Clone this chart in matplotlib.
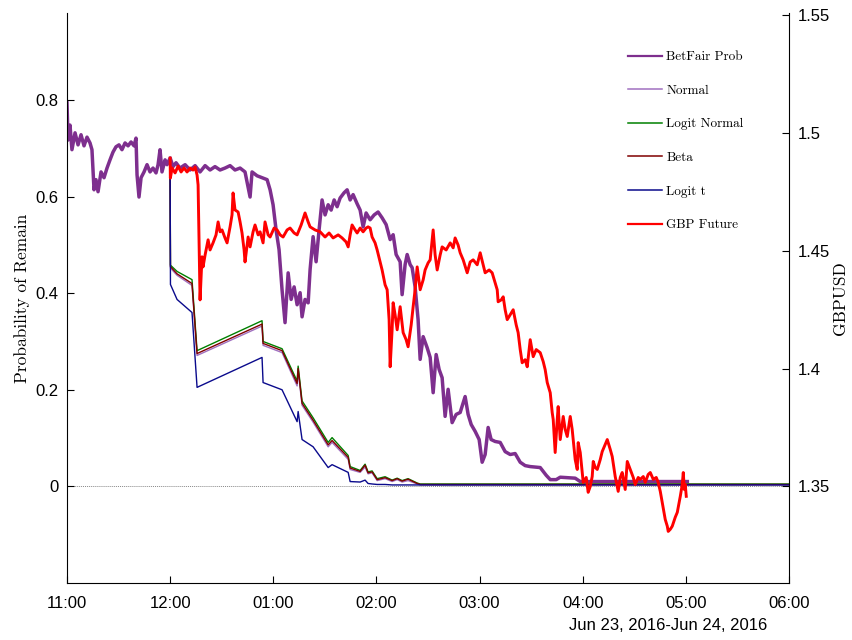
import matplotlib
matplotlib.use("Agg")
import matplotlib.pyplot as plt
import matplotlib.dates as mdates
from matplotlib.lines import Line2D
import pandas as pd

# time is in hours after 11:00 pm on Jun 23, 2016
base = pd.Timestamp("2016-06-23 23:00")

betfair_t = [0.000, 0.010, 0.029, 0.048, 0.078, 0.107, 0.136, 0.165, 0.194, 0.223,
             0.242, 0.262, 0.281, 0.301, 0.330, 0.359, 0.388, 0.417, 0.446, 0.475,
             0.504, 0.533, 0.563, 0.592, 0.621, 0.650, 0.669, 0.679, 0.698, 0.718,
             0.747, 0.776, 0.805, 0.834, 0.863, 0.883, 0.902, 0.921, 0.951, 0.970,
             1.000, 1.028, 1.057, 1.096, 1.145, 1.193, 1.242, 1.290, 1.339, 1.387,
             1.435, 1.484, 1.532, 1.581, 1.629, 1.678, 1.726, 1.775, 1.794, 1.843,
             1.891, 1.940, 1.969, 1.998, 2.027, 2.056, 2.085, 2.114, 2.144, 2.173,
             2.202, 2.231, 2.260, 2.279, 2.308, 2.338, 2.357, 2.386, 2.415, 2.444,
             2.473, 2.502, 2.532, 2.561, 2.590, 2.619, 2.648, 2.687, 2.716, 2.745,
             2.774, 2.813, 2.842, 2.871, 2.900, 2.939, 2.978, 3.016, 3.055, 3.094,
             3.133, 3.162, 3.191, 3.230, 3.249, 3.278, 3.298, 3.327, 3.346, 3.375,
             3.404, 3.424, 3.453, 3.492, 3.521, 3.550, 3.579, 3.608, 3.637, 3.666,
             3.695, 3.734, 3.773, 3.812, 3.860, 3.889, 3.919, 3.957, 3.996, 4.025,
             4.054, 4.083, 4.112, 4.151, 4.200, 4.248, 4.297, 4.345, 4.394, 4.442,
             4.491, 4.588, 4.646, 4.685, 4.743, 4.782, 4.927, 4.976, 5.364, 5.752,
             6.014]
betfair_p = [0.794, 0.717, 0.748, 0.697, 0.732, 0.707, 0.728, 0.705, 0.723, 0.711,
             0.697, 0.614, 0.635, 0.610, 0.651, 0.639, 0.659, 0.676, 0.692, 0.703,
             0.707, 0.697, 0.711, 0.705, 0.713, 0.705, 0.721, 0.645, 0.599, 0.639,
             0.651, 0.666, 0.651, 0.659, 0.649, 0.666, 0.697, 0.651, 0.676, 0.666,
             0.680, 0.662, 0.670, 0.659, 0.666, 0.655, 0.664, 0.651, 0.664, 0.655,
             0.662, 0.655, 0.659, 0.664, 0.655, 0.659, 0.651, 0.599, 0.651, 0.643,
             0.639, 0.635, 0.614, 0.583, 0.531, 0.490, 0.407, 0.339, 0.442, 0.387,
             0.413, 0.376, 0.401, 0.351, 0.387, 0.380, 0.449, 0.517, 0.465, 0.531,
             0.593, 0.562, 0.583, 0.572, 0.593, 0.579, 0.597, 0.608, 0.614, 0.593,
             0.604, 0.585, 0.572, 0.537, 0.566, 0.552, 0.562, 0.568, 0.556, 0.542,
             0.511, 0.521, 0.480, 0.465, 0.397, 0.459, 0.480, 0.459, 0.453, 0.413,
             0.345, 0.263, 0.310, 0.287, 0.267, 0.194, 0.273, 0.242, 0.225, 0.145,
             0.201, 0.132, 0.149, 0.153, 0.186, 0.149, 0.128, 0.114, 0.097, 0.050,
             0.066, 0.122, 0.097, 0.093, 0.091, 0.072, 0.066, 0.068, 0.050, 0.043,
             0.041, 0.039, 0.023, 0.014, 0.014, 0.019, 0.017, 0.010, 0.010, 0.010,
             0.010]

gbp_t = [1.000, 1.002, 1.019, 1.048, 1.077, 1.106, 1.135, 1.164, 1.193, 1.222,
         1.242, 1.261, 1.271, 1.290, 1.309, 1.319, 1.339, 1.368, 1.387, 1.416,
         1.445, 1.465, 1.484, 1.503, 1.532, 1.552, 1.581, 1.600, 1.610, 1.629,
         1.659, 1.678, 1.697, 1.717, 1.726, 1.756, 1.775, 1.804, 1.823, 1.853,
         1.872, 1.901, 1.920, 1.950, 1.969, 2.008, 2.037, 2.066, 2.095, 2.134,
         2.163, 2.202, 2.231, 2.270, 2.308, 2.338, 2.357, 2.405, 2.454, 2.502,
         2.541, 2.580, 2.629, 2.667, 2.706, 2.726, 2.745, 2.764, 2.793, 2.813,
         2.842, 2.871, 2.900, 2.919, 2.939, 2.958, 2.987, 3.007, 3.036, 3.055,
         3.084, 3.104, 3.123, 3.133, 3.152, 3.162, 3.181, 3.201, 3.230, 3.259,
         3.288, 3.307, 3.337, 3.356, 3.375, 3.395, 3.424, 3.453, 3.472, 3.501,
         3.521, 3.550, 3.569, 3.589, 3.618, 3.637, 3.676, 3.715, 3.744, 3.763,
         3.792, 3.812, 3.841, 3.880, 3.909, 3.938, 3.977, 4.006, 4.035, 4.054,
         4.093, 4.122, 4.151, 4.171, 4.180, 4.210, 4.229, 4.248, 4.268, 4.297,
         4.326, 4.355, 4.374, 4.394, 4.413, 4.442, 4.462, 4.491, 4.520, 4.549,
         4.588, 4.617, 4.636, 4.656, 4.685, 4.704, 4.714, 4.733, 4.753, 4.762,
         4.782, 4.811, 4.830, 4.850, 4.879, 4.898, 4.908, 4.927, 4.947, 4.956,
         4.976, 5.005, 5.034, 5.053, 5.073, 5.092, 5.102, 5.121, 5.141, 5.170,
         5.189, 5.218, 5.238, 5.267, 5.286, 5.315, 5.344, 5.364, 5.383, 5.412,
         5.432, 5.461, 5.490, 5.509, 5.538, 5.558, 5.587, 5.606, 5.635, 5.655,
         5.684, 5.713, 5.732, 5.752, 5.771, 5.800, 5.820, 5.829, 5.849, 5.868,
         5.897, 5.917, 5.946, 5.965, 5.975, 5.985, 5.994, 6.004]
gbp_v = [1.4894, 1.4809, 1.4852, 1.4831, 1.4860, 1.4835, 1.4852, 1.4835, 1.4852, 1.4843,
         1.4856, 1.4822, 1.4780, 1.4292, 1.4475, 1.4432, 1.4483, 1.4547, 1.4504, 1.4534,
         1.4568, 1.4623, 1.4581, 1.4589, 1.4555, 1.4534, 1.4602, 1.4653, 1.4746, 1.4674,
         1.4665, 1.4623, 1.4576, 1.4504, 1.4453, 1.4559, 1.4517, 1.4581, 1.4610, 1.4568,
         1.4581, 1.4534, 1.4623, 1.4568, 1.4559, 1.4597, 1.4589, 1.4568, 1.4559, 1.4589,
         1.4597, 1.4576, 1.4568, 1.4610, 1.4661, 1.4623, 1.4602, 1.4589, 1.4581, 1.4559,
         1.4576, 1.4555, 1.4568, 1.4555, 1.4538, 1.4517, 1.4568, 1.4610, 1.4589, 1.4576,
         1.4597, 1.4581, 1.4597, 1.4602, 1.4597, 1.4559, 1.4534, 1.4504, 1.4453, 1.4419,
         1.4356, 1.4335, 1.4208, 1.4008, 1.4165, 1.4280, 1.4229, 1.4165, 1.4263, 1.4153,
         1.4123, 1.4093, 1.4186, 1.4263, 1.4335, 1.4432, 1.4335, 1.4377, 1.4419, 1.4449,
         1.4462, 1.4589, 1.4483, 1.4419, 1.4483, 1.4517, 1.4504, 1.4534, 1.4513, 1.4555,
         1.4525, 1.4492, 1.4462, 1.4407, 1.4453, 1.4462, 1.4441, 1.4492, 1.4441, 1.4407,
         1.4419, 1.4407, 1.4364, 1.4335, 1.4284, 1.4292, 1.4305, 1.4250, 1.4208, 1.4229,
         1.4250, 1.4186, 1.4153, 1.4081, 1.4025, 1.4038, 1.4008, 1.4123, 1.4051, 1.4081,
         1.4068, 1.4030, 1.3996, 1.3941, 1.3898, 1.3814, 1.3784, 1.3644, 1.3784, 1.3839,
         1.3699, 1.3797, 1.3742, 1.3712, 1.3797, 1.3742, 1.3699, 1.3614, 1.3572, 1.3686,
         1.3644, 1.3517, 1.3538, 1.3475, 1.3500, 1.3542, 1.3606, 1.3581, 1.3572, 1.3614,
         1.3648, 1.3678, 1.3699, 1.3657, 1.3627, 1.3542, 1.3479, 1.3538, 1.3559, 1.3487,
         1.3606, 1.3572, 1.3538, 1.3508, 1.3538, 1.3530, 1.3542, 1.3517, 1.3551, 1.3559,
         1.3530, 1.3538, 1.3517, 1.3479, 1.3432, 1.3360, 1.3331, 1.3309, 1.3318, 1.3331,
         1.3369, 1.3390, 1.3458, 1.3508, 1.3559, 1.3487, 1.3508, 1.3458]

model_t = [1.000, 1.003, 1.067, 1.212, 1.261, 1.891, 1.901, 2.085, 2.231, 2.241,
           2.279, 2.386, 2.532, 2.570, 2.726, 2.745, 2.842, 2.890, 2.919, 2.958,
           3.007, 3.084, 3.152, 3.201, 3.249, 3.307, 3.395, 3.424, 7.000]
normal_p = [0.645, 0.452, 0.437, 0.416, 0.271, 0.332, 0.292, 0.277, 0.208, 0.239,
            0.168, 0.133, 0.082, 0.091, 0.056, 0.035, 0.029, 0.040, 0.026, 0.028,
            0.012, 0.016, 0.010, 0.014, 0.009, 0.012, 0.005, 0.003, 0.003]
logit_normal_p = [0.645, 0.458, 0.445, 0.428, 0.281, 0.343, 0.300, 0.285, 0.218, 0.249,
                  0.177, 0.142, 0.091, 0.101, 0.064, 0.041, 0.033, 0.046, 0.030, 0.032,
                  0.016, 0.020, 0.013, 0.017, 0.012, 0.016, 0.007, 0.005, 0.005]
beta_p = [0.645, 0.455, 0.440, 0.420, 0.275, 0.336, 0.296, 0.281, 0.213, 0.244,
          0.172, 0.137, 0.086, 0.095, 0.060, 0.038, 0.031, 0.044, 0.028, 0.030,
          0.014, 0.018, 0.012, 0.016, 0.011, 0.015, 0.006, 0.004, 0.004]
logit_t_p = [0.645, 0.418, 0.387, 0.360, 0.205, 0.267, 0.215, 0.200, 0.134, 0.155,
             0.097, 0.082, 0.039, 0.045, 0.029, 0.010, 0.009, 0.013, 0.006, 0.005,
             0.004, 0.004, 0.003, 0.003, 0.003, 0.003, 0.003, 0.003, 0.003]

hour_ticks = list(range(0, 8))

names = ["BetFair Prob", "Normal", "Logit Normal", "Beta", "Logit t", "GBP Future"]
colors = ["#7E2F8E", "#A070C0", "#008000", "#800000", "#0A0A8C", "#FF0000"]


def to_time(hours):
    return base + pd.to_timedelta(hours, unit="h")


serif = "cmr10"
sans = ["Liberation Sans", "DejaVu Sans"]

fig = plt.figure(figsize=(8.53, 6.4), dpi=100)
ax = fig.add_axes([67 / 853, 1 - 583 / 640, (789 - 67) / 853, (583 - 13) / 640])
ax2 = ax.twinx()

ax.plot(to_time(betfair_t), betfair_p, color=colors[0], lw=2.5)
ax.plot(to_time(model_t), normal_p, color=colors[1], lw=1.0)
ax.plot(to_time(model_t), logit_normal_p, color=colors[2], lw=1.0)
ax.plot(to_time(model_t), beta_p, color=colors[3], lw=1.0)
ax.plot(to_time(model_t), logit_t_p, color=colors[4], lw=1.0)
ax.axhline(0, color="#888888", lw=0.7, ls=(0, (1, 1)), zorder=0)

ax2.plot(to_time(gbp_t), gbp_v, color=colors[5], lw=2.1)

ax.set_xlim(to_time(0), to_time(7))
ax.set_ylim(-0.2, 0.98)
ax2.set_ylim(1.309, 1.551)

ax.set_xticks(to_time(hour_ticks))
ax.xaxis.set_major_formatter(mdates.DateFormatter("%I:%M"))
ax.set_yticks([0, 0.2, 0.4, 0.6, 0.8])
ax.set_yticklabels(["0", "0.2", "0.4", "0.6", "0.8"])
ax2.set_yticks([1.35, 1.4, 1.45, 1.5, 1.55])
ax2.set_yticklabels(["1.35", "1.4", "1.45", "1.5", "1.55"])

for a in (ax, ax2):
    a.spines["top"].set_visible(False)
    for lab in a.get_xticklabels() + a.get_yticklabels():
        lab.set_family(sans)
        lab.set_fontsize(12)
ax.spines["right"].set_visible(False)
ax2.spines["left"].set_visible(False)
ax2.spines["bottom"].set_visible(False)

ax.tick_params(axis="x", direction="in", length=5, pad=9)
ax.tick_params(axis="y", direction="in", length=5, pad=6)
ax2.tick_params(axis="y", direction="in", length=5, pad=6)

ax.set_ylabel("Probability of Remain", family=serif, fontsize=12.5, labelpad=4)
ax2.set_ylabel("GBPUSD", family=serif, fontsize=12.5, labelpad=2)

fig.text(668 / 853, 1 - 626 / 640, "Jun 23, 2016-Jun 24, 2016",
         family=sans, fontsize=12, ha="center", va="center")

# legend uses thin sample lines, like the original
handles = [Line2D([], [], color=c, lw=1.6 if i in (0, 5) else 1.1)
           for i, c in enumerate(colors)]
ax2.legend(handles, names, loc="upper left",
           bbox_to_anchor=(628 / 853, 1 - 51 / 640), bbox_transform=fig.transFigure,
           frameon=False, prop={"family": serif, "size": 9.5}, borderpad=0,
           borderaxespad=0, handlelength=2.6, handletextpad=0.3, labelspacing=1.62)

fig.savefig("out.png", dpi=100)
